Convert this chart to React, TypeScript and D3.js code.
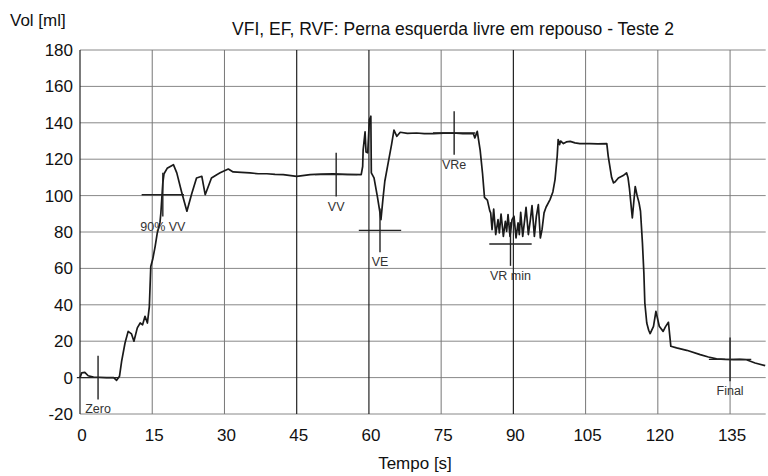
import React from "react";
import * as d3 from "d3";

const title = "VFI, EF, RVF: Perna esquerda livre em repouso - Teste 2";
const xTitle = "Tempo [s]";
const yTitle = "Vol [ml]";

const timeTicks = [0, 15, 30, 45, 60, 75, 90, 105, 120, 135];
const volTicks = [-20, 0, 20, 40, 60, 80, 100, 120, 140, 160, 180];
const darkTimeLines = [45, 60, 90];

// volume curve
const timeS = [
  0, 0.35, 1.0, 1.7, 2.8, 4.0, 5.5, 7.0, 7.6, 8.2, 8.65, 9.35, 10.0, 10.7, 11.2, 11.9, 12.5, 13.0, 13.5, 14.0,
  14.4, 14.7, 15.1, 15.6, 16.05, 16.6, 16.8, 17.2, 17.45, 18.1, 19.4, 20.1, 21.1, 22.2, 23.2, 24.2, 25.3, 26.0,
  27.3, 28.4, 29.1, 30.8, 31.8, 33.5, 35.3, 37, 38.8, 40.5, 42.2, 45, 47.8, 50, 52.6, 55.5, 58.4, 58.7, 58.8,
  59.2, 59.4, 59.75, 60.1, 60.4, 60.5, 61.06, 61.75, 62.3, 62.5, 62.9, 63.3, 64.0, 64.7, 65.2, 65.8, 66.5, 68,
  69.9, 71.5, 73.4, 75.5, 77.5, 79.5, 81.7, 82.0, 82.5, 83.1, 83.6, 84.0, 84.6, 85.1, 85.29, 85.57, 85.91,
  86.33, 86.81, 87.09, 87.44, 87.92, 88.33, 88.61, 88.89, 89.3, 89.72, 90.13, 90.55, 90.97, 91.24, 91.52,
  91.94, 92.35, 92.63, 93.11, 93.53, 93.87, 94.36, 94.77, 95.19, 95.6, 95.95, 96.37, 96.78, 97.61, 98.2,
  98.65, 99.1, 99.3, 99.6, 99.8, 100.4, 101.0, 101.8, 102.8, 103.8, 105.9, 107.5, 109.4, 109.7, 110.4, 110.8,
  111.1, 111.8, 112.8, 113.5, 113.8, 114.1, 114.7, 115.3, 115.7, 116.1, 116.4, 116.8, 117.1, 117.3, 117.7,
  118.1, 118.4, 119.1, 119.6, 120.3, 121.1, 121.6, 122.2, 122.7, 123.9, 126, 128.8, 130.5, 132.2, 134, 135.7,
  137, 138.4, 140.2, 142.3,
];
const volMl = [
  0, 2.6, 2.9, 1.0, 0.3, 0.2, 0, 0, -1.5, 0.7, 9, 19, 25.4, 24, 20, 27.3, 30, 29, 33.7, 30,
  39, 61, 65, 72, 79.5, 85, 90.6, 107, 112, 115, 117, 112.5, 102, 91.4, 101, 109.7, 110.6, 100.5,
  109.7, 111.5, 112.5, 114.6, 113, 112.8, 112.5, 112, 112, 111.7, 111.5, 110.6, 111.5, 111.8, 112, 111.7, 111.5, 116, 125,
  135, 124, 123.5, 141.8, 143.6, 112.5, 109.7, 99.6, 90.5, 86.8, 97.8, 107.9, 118, 128, 136, 132.6, 134.8, 134.2,
  134.4, 134.0, 134, 134.3, 134.4, 134.1, 134, 131.7, 135.3, 125, 112, 99, 97.5, 91.6, 90.5, 81.3, 92.6,
  78.6, 86.8, 79.5, 89.9, 77.6, 85.9, 80.4, 89.6, 77.6, 86.8, 88.6, 76.7, 85, 78.6, 90.8,
  77.6, 86.8, 93.6, 78.6, 86.8, 94.5, 77.6, 88.6, 95, 76.7, 81.3, 90.5, 93.6, 97.8, 102,
  108.8, 121.6, 130.8, 128, 130, 128.6, 129.5, 129.8, 129, 128.6, 128.6, 128.4, 128.6, 121.6, 110, 107,
  107.5, 109.7, 111, 112.5, 110, 104, 87.7, 105, 100, 96, 91.4, 74, 57.5, 41, 30,
  26, 24.2, 28.2, 36.4, 28.2, 25.4, 28, 30.4, 17.2, 16.3, 15, 12.6, 11.3, 10.3, 10, 9.9,
  10, 9.8, 8, 6.6,
];

// cross markers
const markerNames = ["Zero", "90% VV", "VV", "VE", "VRe", "VR min", "Final"];
const markerTime = [3.75, 17.2, 53.2, 62.3, 77.7, 89.4, 135];
const markerVol = [0, 100.5, 111.5, 80.9, 134.4, 73.4, 10];

const W = 768;
const H = 476;
const font = "'Liberation Sans', Arial, sans-serif";

export default function App() {
  const x = d3.scaleLinear().domain([0, 142.4]).range([80, 765.7]);
  const y = d3.scaleLinear().domain([-20, 180]).range([414, 50]);
  const line = d3
    .line<number>()
    .x((d, i) => x(timeS[i]))
    .y((d) => y(d));

  const halfT = 4.4;
  const halfV = 12;

  return (
    <svg
      width={W}
      height={H}
      style={{ position: "absolute", left: 0, top: 0, background: "#fff" }}
      fontFamily={font}
    >
      {/* horizontal grid */}
      {volTicks.map((v) => (
        <line key={"h" + v} x1={x(0)} x2={x(142.4)} y1={y(v)} y2={y(v)} stroke="#888" strokeWidth={1} />
      ))}
      {/* vertical grid */}
      {timeTicks.map((t) => (
        <line
          key={"v" + t}
          x1={x(t)}
          x2={x(t)}
          y1={y(180)}
          y2={y(-20)}
          stroke={darkTimeLines.includes(t) || t === 0 ? "#222" : "#777"}
          strokeWidth={darkTimeLines.includes(t) || t === 0 ? 1.2 : 1}
        />
      ))}

      {/* y tick labels */}
      {volTicks.map((v) => (
        <text key={"yl" + v} x={73} y={y(v) + 6} textAnchor="end" fontSize={17} fill="#111">
          {v}
        </text>
      ))}
      {/* x tick labels */}
      {timeTicks.map((t) => (
        <text key={"xl" + t} x={x(t) + 2} y={441} textAnchor="middle" fontSize={17} fill="#111">
          {t}
        </text>
      ))}

      <text x={10} y={26} fontSize={17} fill="#111">
        {yTitle}
      </text>
      <text x={453} y={35} textAnchor="middle" fontSize={17.5} fill="#111">
        {title}
      </text>
      <text x={415} y={469} textAnchor="middle" fontSize={17} fill="#111">
        {xTitle}
      </text>

      {/* data */}
      <path d={line(volMl) || ""} fill="none" stroke="#1a1a1a" strokeWidth={1.7} strokeLinejoin="round" />

      {/* markers */}
      {markerNames.map((name, i) => {
        const cx = x(markerTime[i]);
        const cy = y(markerVol[i]);
        return (
          <g key={name}>
            <line
              x1={x(markerTime[i] - halfT)}
              x2={x(markerTime[i] + halfT)}
              y1={cy}
              y2={cy}
              stroke="#222"
              strokeWidth={1.4}
            />
            <line
              x1={cx}
              x2={cx}
              y1={y(markerVol[i] + halfV)}
              y2={y(markerVol[i] - halfV)}
              stroke="#222"
              strokeWidth={1.4}
            />
            <text x={cx} y={y(markerVol[i] - halfV) + 14} textAnchor="middle" fontSize={12.5} fill="#333">
              {name}
            </text>
          </g>
        );
      })}
    </svg>
  );
}
